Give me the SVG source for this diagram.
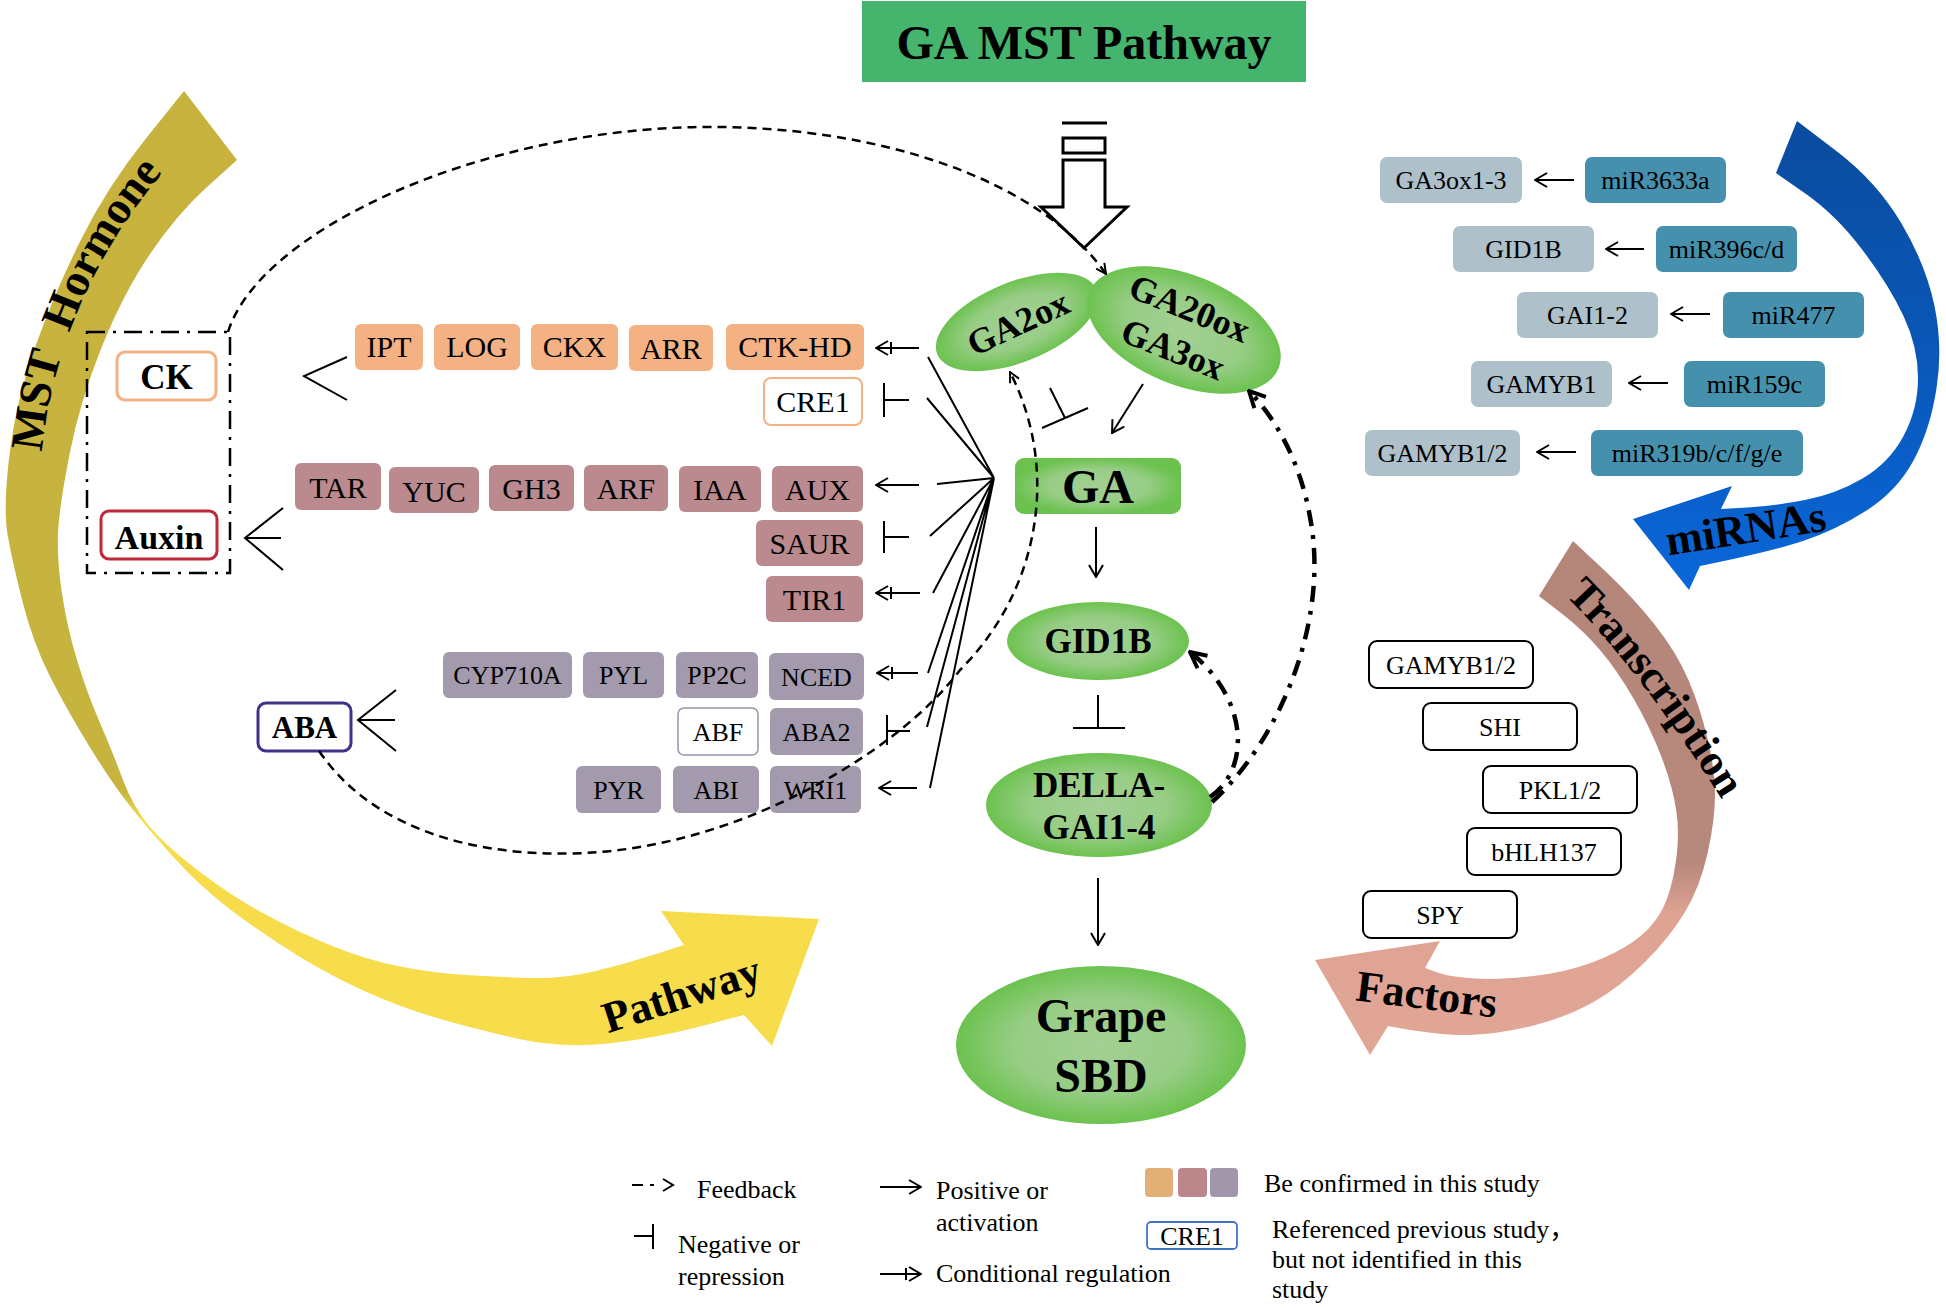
<svg xmlns="http://www.w3.org/2000/svg" width="1946" height="1308" viewBox="0 0 1946 1308">
<defs>
<style>
text{font-family:"Liberation Serif","Times New Roman",serif;fill:#000}
.b{font-weight:bold}
.t30{font-size:30px}
.t26{font-size:26px}
.m{text-anchor:middle}
.ck{fill:#f4b183}
.ax{fill:#ba8a8e}
.ab{fill:#a39bad}
.mi1{fill:#aec1cb}
.mi2{fill:#4591ad}
.tf{fill:#fff;stroke:#000;stroke-width:2}
.ln{fill:none;stroke:#000;stroke-width:2}
.dash{fill:none;stroke:#000;stroke-width:2.5;stroke-dasharray:9 6}
.dd{fill:none;stroke:#000;stroke-width:4.5;stroke-dasharray:16 9 4 9}
</style>
<radialGradient id="gE" cx="50%" cy="50%" r="50%">
<stop offset="0" stop-color="#a3d094"/><stop offset="0.6" stop-color="#97cd85"/><stop offset="1" stop-color="#6cc24f"/>
</radialGradient>
<linearGradient id="gMST" gradientUnits="userSpaceOnUse" x1="0" y1="90" x2="0" y2="1050">
<stop offset="0" stop-color="#c8b23e"/><stop offset="0.73" stop-color="#c6b43f"/><stop offset="0.76" stop-color="#f6dc4b"/><stop offset="1" stop-color="#f7dd4c"/>
</linearGradient>
<linearGradient id="gMi" gradientUnits="userSpaceOnUse" x1="0" y1="120" x2="0" y2="590">
<stop offset="0" stop-color="#0a4c9e"/><stop offset="0.5" stop-color="#0a57b8"/><stop offset="1" stop-color="#0a67da"/>
</linearGradient>
<linearGradient id="gTF" gradientUnits="userSpaceOnUse" x1="0" y1="540" x2="0" y2="1060">
<stop offset="0" stop-color="#b4867a"/><stop offset="0.62" stop-color="#b7887c"/><stop offset="0.72" stop-color="#dfa393"/><stop offset="1" stop-color="#e2a697"/>
</linearGradient>
<marker id="a" viewBox="0 0 14 16" refX="13" refY="8" markerWidth="14" markerHeight="16" markerUnits="userSpaceOnUse" orient="auto"><path d="M1,1 L13,8 L1,15" fill="none" stroke="#000" stroke-width="2"/></marker>
<marker id="c" viewBox="-6 0 20 16" refX="13" refY="8" markerWidth="20" markerHeight="16" markerUnits="userSpaceOnUse" orient="auto"><path d="M1,1 L13,8 L1,15 M-2,2 V14" fill="none" stroke="#000" stroke-width="2"/></marker>
<marker id="da" viewBox="0 0 12 12" refX="11" refY="6" markerWidth="12" markerHeight="12" markerUnits="userSpaceOnUse" orient="auto"><path d="M1,1 L11,6 L1,11" fill="none" stroke="#000" stroke-width="2"/></marker>
<marker id="ta" viewBox="0 0 20 20" refX="18" refY="10" markerWidth="20" markerHeight="20" markerUnits="userSpaceOnUse" orient="auto"><path d="M2,2 L18,10 L2,18" fill="none" stroke="#000" stroke-width="4"/></marker>
<path id="pMST" d="M42,452 C50,362 90,252 174,160" fill="none"/>
<path id="pTr" d="M1565,595 Q1640,670 1722,800" fill="none"/>
</defs>
<rect width="1946" height="1308" fill="#fff"/>

<g id="band-mst">
<path fill="url(#gMST)" d="M184,91 L145.5,139 Q107,187 80.5,240.5 Q54,294 35,347.5 Q16,401 9.5,454.5 Q3,508 7.5,534 Q12,560 22.5,601.5 Q33,643 50,676.5 Q67,710 88.5,745 Q110,780 126.5,801.5 Q143,823 171.5,855 Q200,887 233.5,912 Q267,937 300,957 Q333,977 366.5,992 Q400,1007 433.5,1017 Q467,1027 514.5,1038 Q562,1049 609,1043.5 Q656,1038 700,1026.5 L744,1015 L772,1046 L819,919 L661,911 L684,945 L654.5,954.5 Q625,964 593.5,971.5 Q562,979 531,978 Q500,977 466.5,975 Q433,973 400,966.5 Q367,960 333.5,946.5 Q300,933 266.5,915 Q233,897 200,872 Q167,847 150,827 Q133,807 123,780 Q113,753 100,723 Q87,693 77,660 Q67,627 62,593.5 Q57,560 58,534 Q59,508 69.5,454.5 Q80,401 101.5,347.5 Q123,294 150,254 Q177,214 207,187 L237,160 Z"/>
<text class="b" font-size="46"><textPath href="#pMST">MST&#160;&#160;Hormone</textPath></text>
<text class="b m" font-size="44" transform="translate(686,1008) rotate(-18)">Pathway</text>
</g>

<g id="band-mirna">
<path fill="url(#gMi)" d="M1797,121 L1837,151.5 Q1877,182 1901.5,223.5 Q1926,265 1934.5,306 Q1943,347 1936.5,388.5 Q1930,430 1913.5,460.5 Q1897,491 1866.5,510.5 Q1836,530 1803,541 Q1770,552 1700,566 L1689,590 L1633,519 L1732,486 L1721,509 L1747.5,507.5 Q1774,506 1805,500 Q1836,494 1862.5,478.5 Q1889,463 1903.5,436 Q1918,409 1918,378 Q1918,347 1903.5,316 Q1889,285 1862.5,250 Q1836,215 1806,194 L1776,173 Z"/>
<text class="b m" font-size="44" transform="translate(1748,543) rotate(-9)">miRNAs</text>
</g>

<g id="band-tf">
<path fill="url(#gTF)" d="M1573,541 L1603,569 Q1633,597 1655,625 Q1677,653 1688.5,680 Q1700,707 1707.5,738.5 Q1715,770 1715,795 Q1715,820 1707.5,853.5 Q1700,887 1685,912 Q1670,937 1645,962 Q1620,987 1593.5,1002 Q1567,1017 1533.5,1025.5 Q1500,1034 1470,1035 Q1440,1036 1388,1026 L1370,1055 L1315,960 L1440,941 L1425,968 L1437.5,972.5 Q1450,977 1475,978.5 Q1500,980 1533.5,976 Q1567,972 1592,962.5 Q1617,953 1633.5,941.5 Q1650,930 1660,913.5 Q1670,897 1675,867 Q1680,837 1676.5,812 Q1673,787 1661.5,757 Q1650,727 1633.5,698.5 Q1617,670 1600,650 Q1583,630 1561,613 L1539,596 Z"/>
<text class="b m" font-size="44"><textPath href="#pTr" startOffset="50%">Transcription</textPath></text>
<text class="b m" font-size="44" transform="translate(1425,1009) rotate(7)">Factors</text>
</g>

<g id="title">
<rect x="862" y="1" width="444" height="81" fill="#45b46d"/>
<text class="b m" font-size="48" x="1084" y="59">GA MST Pathway</text>
</g>

<g id="input-arrow">
<line x1="1062" y1="123" x2="1107" y2="123" stroke="#000" stroke-width="3"/>
<rect x="1063" y="138" width="42" height="15" fill="#fff" stroke="#000" stroke-width="3"/>
<path d="M1063,160 L1105,160 L1105,207 L1127,207 L1084,248 L1041,207 L1063,207 Z" fill="#fff" stroke="#000" stroke-width="3"/>
</g>

<g id="n-ga2ox">
<ellipse cx="1017" cy="322" rx="86" ry="40" transform="rotate(-22 1017 322)" fill="url(#gE)"/>
<text class="b m" font-size="36" transform="translate(1018,323) rotate(-25)" y="12">GA2ox</text>
</g>
<g id="n-ga20ox">
<ellipse cx="1184" cy="330" rx="102" ry="55" transform="rotate(22 1184 330)" fill="url(#gE)"/>
<g transform="translate(1184,330) rotate(22)">
<text class="b m" font-size="36" x="-3" y="-10">GA20ox</text>
<text class="b m" font-size="36" x="-3" y="34">GA3ox</text>
</g>
</g>
<g id="n-ga">
<rect x="1015" y="458" width="166" height="56" rx="9" fill="url(#gE)"/>
<text class="b m" font-size="48" x="1098" y="503">GA</text>
</g>
<g id="n-gid1b">
<ellipse cx="1098" cy="641" rx="91" ry="39" fill="url(#gE)"/>
<text class="b m" font-size="35" x="1098" y="653">GID1B</text>
</g>
<g id="n-della">
<ellipse cx="1099" cy="805" rx="113" ry="52" fill="url(#gE)"/>
<text class="b m" font-size="35" x="1099" y="797">DELLA-</text>
<text class="b m" font-size="35" x="1099" y="839">GAI1-4</text>
</g>
<g id="n-grape">
<ellipse cx="1101" cy="1045" rx="145" ry="79" fill="url(#gE)"/>
<text class="b m" font-size="48" x="1101" y="1032">Grape</text>
<text class="b m" font-size="48" x="1101" y="1092">SBD</text>
</g>

<g id="n-ck">
<rect x="117" y="352" width="99" height="48" rx="8" fill="#fff" stroke="#f4b183" stroke-width="3"/>
<text class="b m" font-size="35" x="166.5" y="389">CK</text>
</g>
<g id="n-auxin">
<rect x="101" y="511" width="116" height="48" rx="8" fill="#fff" stroke="#c0283c" stroke-width="3"/>
<text class="b m" font-size="34" x="159" y="549">Auxin</text>
</g>
<g id="n-aba">
<rect x="258" y="703" width="93" height="48" rx="8" fill="#fff" stroke="#3f3389" stroke-width="3"/>
<text class="b m" font-size="31" x="304.5" y="738">ABA</text>
</g>

<g id="ck-genes" class="t30">
<g id="g-ipt"><rect class="ck" x="355" y="324" width="68" height="46" rx="6"/><text class="m" x="389" y="357">IPT</text></g>
<g id="g-log"><rect class="ck" x="434" y="324" width="86" height="46" rx="6"/><text class="m" x="477" y="357">LOG</text></g>
<g id="g-ckx"><rect class="ck" x="531" y="324" width="87" height="46" rx="6"/><text class="m" x="574.5" y="357">CKX</text></g>
<g id="g-arr"><rect class="ck" x="629" y="325" width="84" height="46" rx="6"/><text class="m" x="671" y="359">ARR</text></g>
<g id="g-ctkhd"><rect class="ck" x="726" y="324" width="138" height="46" rx="6"/><text class="m" x="795" y="357">CTK-HD</text></g>
<g id="g-cre1"><rect x="764" y="378" width="98" height="47" rx="7" fill="#fff" stroke="#f4b183" stroke-width="2"/><text class="m" x="813" y="412">CRE1</text></g>
</g>

<g id="auxin-genes" class="t30">
<g id="g-tar"><rect class="ax" x="295" y="463" width="86" height="47" rx="6"/><text class="m" x="338" y="498">TAR</text></g>
<g id="g-yuc"><rect class="ax" x="389" y="467" width="90" height="46" rx="6"/><text class="m" x="434" y="502">YUC</text></g>
<g id="g-gh3"><rect class="ax" x="489" y="465" width="85" height="46" rx="6"/><text class="m" x="531.5" y="499">GH3</text></g>
<g id="g-arf"><rect class="ax" x="584" y="465" width="84" height="46" rx="6"/><text class="m" x="626" y="499">ARF</text></g>
<g id="g-iaa"><rect class="ax" x="679" y="466" width="82" height="46" rx="6"/><text class="m" x="720" y="500">IAA</text></g>
<g id="g-aux"><rect class="ax" x="772" y="466" width="91" height="46" rx="6"/><text class="m" x="817.5" y="500">AUX</text></g>
<g id="g-saur"><rect class="ax" x="756" y="520" width="107" height="46" rx="6"/><text class="m" x="809.5" y="554">SAUR</text></g>
<g id="g-tir1"><rect class="ax" x="766" y="576" width="97" height="46" rx="6"/><text class="m" x="814.5" y="610">TIR1</text></g>
</g>

<g id="aba-genes" class="t26">
<g id="g-cyp"><rect class="ab" x="443" y="652" width="129" height="46" rx="6"/><text class="m" x="507.5" y="684">CYP710A</text></g>
<g id="g-pyl"><rect class="ab" x="583" y="652" width="81" height="46" rx="6"/><text class="m" x="623.5" y="684">PYL</text></g>
<g id="g-pp2c"><rect class="ab" x="676" y="652" width="82" height="46" rx="6"/><text class="m" x="717" y="684">PP2C</text></g>
<g id="g-nced"><rect class="ab" x="769" y="653" width="95" height="47" rx="6"/><text class="m" x="816.5" y="686">NCED</text></g>
<g id="g-abf"><rect x="678" y="708" width="80" height="47" rx="6" fill="#fff" stroke="#9b93ab" stroke-width="1.5"/><text class="m" x="718" y="741">ABF</text></g>
<g id="g-aba2"><rect class="ab" x="770" y="708" width="93" height="47" rx="6"/><text class="m" x="816.5" y="741">ABA2</text></g>
<g id="g-pyr"><rect class="ab" x="576" y="766" width="85" height="47" rx="6"/><text class="m" x="618.5" y="799">PYR</text></g>
<g id="g-abi"><rect class="ab" x="673" y="766" width="86" height="47" rx="6"/><text class="m" x="716" y="799">ABI</text></g>
<g id="g-wri1"><rect class="ab" x="770" y="766" width="91" height="47" rx="6"/><text class="m" x="815.5" y="799">WRI1</text></g>
</g>

<g id="mirna-pairs" class="t26">
<g id="m1"><rect class="mi1" x="1380" y="157" width="142" height="46" rx="7"/><text class="m" x="1451" y="189">GA3ox1-3</text><rect class="mi2" x="1585" y="157" width="141" height="46" rx="7"/><text class="m" x="1655.5" y="189">miR3633a</text></g>
<g id="m2"><rect class="mi1" x="1453" y="226" width="141" height="46" rx="7"/><text class="m" x="1523.5" y="258">GID1B</text><rect class="mi2" x="1656" y="226" width="141" height="46" rx="7"/><text class="m" x="1726.5" y="258">miR396c/d</text></g>
<g id="m3"><rect class="mi1" x="1517" y="292" width="141" height="46" rx="7"/><text class="m" x="1587.5" y="324">GAI1-2</text><rect class="mi2" x="1723" y="292" width="141" height="46" rx="7"/><text class="m" x="1793.5" y="324">miR477</text></g>
<g id="m4"><rect class="mi1" x="1471" y="361" width="141" height="46" rx="7"/><text class="m" x="1541.5" y="393">GAMYB1</text><rect class="mi2" x="1684" y="361" width="141" height="46" rx="7"/><text class="m" x="1754.5" y="393">miR159c</text></g>
<g id="m5"><rect class="mi1" x="1365" y="430" width="155" height="46" rx="7"/><text class="m" x="1442.5" y="462">GAMYB1/2</text><rect class="mi2" x="1591" y="430" width="212" height="46" rx="7"/><text class="m" x="1697" y="462">miR319b/c/f/g/e</text></g>
</g>

<g id="tf-boxes" class="t26">
<g id="tf1"><rect class="tf" x="1369" y="641" width="164" height="47" rx="8"/><text class="m" x="1451" y="674">GAMYB1/2</text></g>
<g id="tf2"><rect class="tf" x="1423" y="703" width="154" height="47" rx="8"/><text class="m" x="1500" y="736">SHI</text></g>
<g id="tf3"><rect class="tf" x="1483" y="766" width="154" height="47" rx="8"/><text class="m" x="1560" y="799">PKL1/2</text></g>
<g id="tf4"><rect class="tf" x="1467" y="828" width="154" height="47" rx="8"/><text class="m" x="1544" y="861">bHLH137</text></g>
<g id="tf5"><rect class="tf" x="1363" y="891" width="154" height="47" rx="8"/><text class="m" x="1440" y="924">SPY</text></g>
</g>

<g id="connectors">
<rect x="87" y="332" width="143" height="241" fill="none" stroke="#000" stroke-width="2.5" stroke-dasharray="18 8 3 8"/>
<path class="ln" d="M347,357 L304,376 L347,400"/>
<path class="ln" d="M283,508 L245,538 L283,570 M245,538 H281"/>
<path class="ln" d="M396,690 L358,720 L396,751 M358,720 H395"/>

<path class="ln" d="M919,348 H876" marker-end="url(#c)"/>
<path class="ln" d="M884,383 V417 M884,400 H909"/>
<path class="ln" d="M919,485 H876" marker-end="url(#a)"/>
<path class="ln" d="M884,521 V553 M884,537 H909"/>
<path class="ln" d="M920,593 H876" marker-end="url(#c)"/>
<path class="ln" d="M918,673 H877" marker-end="url(#c)"/>
<path class="ln" d="M887,715 V745 M887,731 H910"/>
<path class="ln" d="M917,788 H879" marker-end="url(#a)"/>
<path class="ln" d="M994,478 L928,357 M994,478 L927,398 M994,478 L937,484 M994,478 L930,536 M994,478 L933,593 M994,478 L928,673 M994,478 L927,727 M994,478 L930,788"/>

<path class="ln" d="M1143,384 L1112,433" marker-end="url(#a)"/>
<path class="ln" d="M1050,388 L1065,418 M1042,428 L1088,408"/>
<path class="ln" d="M1096,527 V577" marker-end="url(#a)"/>
<path class="ln" d="M1098,695 V728 M1073,728 H1125"/>
<path class="ln" d="M1098,878 V945" marker-end="url(#a)"/>

<path class="dash" d="M228,332 C260,230 480,130 700,127 C880,125 1040,180 1106,274" marker-end="url(#da)"/>
<path class="dash" d="M319,751 C380,840 500,860 600,852 C750,840 900,750 960,670 C1040,590 1060,470 1010,372" marker-end="url(#da)"/>
<path class="dd" d="M1212,802 C1280,740 1330,620 1310,517 C1300,460 1275,418 1249,391" marker-end="url(#ta)"/>
<path class="dd" d="M1210,797 C1250,770 1250,700 1190,652" marker-end="url(#ta)"/>

<path class="ln" d="M1574,180 H1535" marker-end="url(#a)"/>
<path class="ln" d="M1644,249 H1606" marker-end="url(#a)"/>
<path class="ln" d="M1710,314 H1671" marker-end="url(#a)"/>
<path class="ln" d="M1668,383 H1629" marker-end="url(#a)"/>
<path class="ln" d="M1576,452 H1537" marker-end="url(#a)"/>
</g>

<g id="legend" class="t26">
<path class="ln" d="M632,1185 H643 M650,1185 H654 M663,1179 L673,1185 L663,1191"/>
<text x="697" y="1198">Feedback</text>
<path class="ln" d="M634,1236 H653 M653,1224 V1249"/>
<text x="678" y="1253">Negative or</text>
<text x="678" y="1285">repression</text>
<path class="ln" d="M880,1187 H921" marker-end="url(#a)"/>
<text x="936" y="1199">Positive or</text>
<text x="936" y="1231">activation</text>
<path class="ln" d="M880,1274 H921" marker-end="url(#c)"/>
<text x="936" y="1282">Conditional regulation</text>
<rect x="1145" y="1168" width="28" height="29" rx="4" fill="#e2b077"/>
<rect x="1178" y="1168" width="29" height="29" rx="4" fill="#bb878b"/>
<rect x="1210" y="1168" width="28" height="29" rx="4" fill="#a197ab"/>
<text x="1264" y="1192">Be confirmed in this study</text>
<rect x="1147" y="1222" width="90" height="27" rx="4" fill="#fff" stroke="#4472c4" stroke-width="1.8"/>
<text class="m" x="1192" y="1245">CRE1</text>
<text x="1272" y="1238">Referenced previous study<tspan font-family="'Noto Sans CJK SC',sans-serif">，</tspan></text>
<text x="1272" y="1268">but not identified in this</text>
<text x="1272" y="1298">study</text>
</g>
</svg>
